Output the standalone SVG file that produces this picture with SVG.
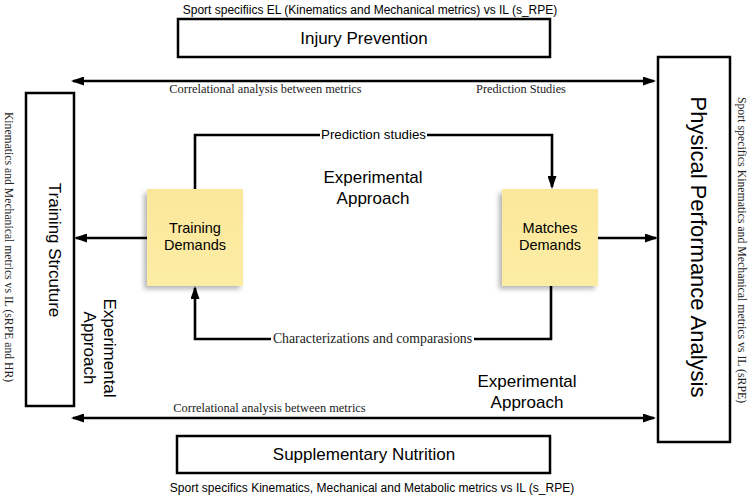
<svg xmlns="http://www.w3.org/2000/svg" width="750" height="497" viewBox="0 0 750 497">
<style>
.box{fill:#fff;stroke:#000;stroke-width:2.5}
.note{fill:url(#noteGrad)}
.sans{font-family:"Liberation Sans",Arial,sans-serif;fill:#000}
.serif{font-family:"Liberation Serif","Times New Roman",serif;fill:#222}
.conn{fill:none;stroke:#000;stroke-width:2.6}
.mid{text-anchor:middle}
</style>
<defs>
<linearGradient id="noteGrad" x1="0" y1="0" x2="0" y2="1">
<stop offset="0" stop-color="#FBE79C"/>
<stop offset="1" stop-color="#FCEDA4"/>
</linearGradient>
<filter id="shadow" x="-20%" y="-20%" width="140%" height="140%">
<feGaussianBlur stdDeviation="2.5"/>
</filter>
<marker id="arr" markerUnits="userSpaceOnUse" markerWidth="13" markerHeight="9" refX="11" refY="4.5" orient="auto-start-reverse" viewBox="0 0 13 9">
<path d="M0,0 L13,4.5 L0,9 z" fill="#000"/>
</marker>
</defs>

<g id="injury-prevention">
<text class="sans mid" x="370" y="14" font-size="12">Sport specifiics EL (Kinematics and Mechanical metrics) vs IL (s_RPE)</text>
<rect class="box" x="178" y="19" width="372" height="38"/>
<text class="sans mid" x="364" y="44" font-size="17">Injury Prevention</text>
</g>

<g id="supplementary-nutrition">
<rect class="box" x="177" y="436" width="373" height="37"/>
<text class="sans mid" x="364" y="460" font-size="17">Supplementary Nutrition</text>
<text class="sans mid" x="372" y="492" font-size="12">Sport specifics Kinematics, Mechanical and Metabolic metrics vs IL (s_RPE)</text>
</g>

<g id="training-structure">
<rect class="box" x="26" y="93" width="48" height="313"/>
<text class="sans mid" font-size="17" transform="translate(49,250) rotate(90)" x="0" y="0">Training Strcuture</text>
<text class="serif mid" font-size="11.7" transform="translate(4.5,247) rotate(90)" x="0" y="0">Kinematics and Mechanical metrics vs IL (sRPE and HR)</text>
</g>

<g id="physical-performance-analysis">
<rect class="box" x="658" y="57" width="72" height="385"/>
<text class="sans mid" font-size="22" transform="translate(691,247) rotate(90)" x="0" y="0">Physical Performance Analysis</text>
<text class="serif mid" font-size="11.8" transform="translate(738,250) rotate(90)" x="0" y="0">Sport specifics Kinematics and Mechanical metrics vs IL (sRPE)</text>
</g>

<g id="training-demands">
<rect x="144" y="193" width="96" height="96" fill="#777" opacity="0.55" filter="url(#shadow)"/>
<rect class="note" x="147" y="189" width="96" height="97"/>
<text class="sans mid" x="195" y="233" font-size="14.5">Training</text>
<text class="sans mid" x="195" y="250" font-size="14.5">Demands</text>
</g>

<g id="matches-demands">
<rect x="499" y="193" width="96" height="96" fill="#777" opacity="0.55" filter="url(#shadow)"/>
<rect class="note" x="502" y="189" width="96" height="97"/>
<text class="sans mid" x="550" y="233" font-size="14.5">Matches</text>
<text class="sans mid" x="550" y="250" font-size="14.5">Demands</text>
</g>

<g id="connectors">
<line class="conn" x1="73" y1="81" x2="654" y2="81" marker-start="url(#arr)" marker-end="url(#arr)"/>
<line class="conn" x1="73" y1="418" x2="654" y2="418" marker-start="url(#arr)" marker-end="url(#arr)"/>
<line class="conn" x1="147" y1="238" x2="76" y2="238" marker-end="url(#arr)"/>
<line class="conn" x1="598" y1="238" x2="656" y2="238" marker-end="url(#arr)"/>
<polyline class="conn" points="195,189 195,135 552,135 552,187" marker-end="url(#arr)"/>
<polyline class="conn" points="551,286 551,339 195,339 195,288" marker-end="url(#arr)"/>
<rect x="320" y="127" width="107" height="16" fill="#fff"/>
<text class="sans mid" x="373.5" y="139" font-size="13.3">Prediction studies</text>
<rect x="271" y="331" width="203" height="16" fill="#fff"/>
<text class="serif mid" x="372.5" y="343" font-size="13.8">Characterizations and comparasions</text>
<text class="serif mid" x="265.5" y="93" font-size="12.4">Correlational analysis between metrics</text>
<text class="serif mid" x="521" y="93" font-size="12.3">Prediction Studies</text>
<text class="serif mid" x="269.5" y="412" font-size="12.4">Correlational analysis between metrics</text>
</g>

<g id="labels">
<text class="sans mid" x="373" y="183" font-size="17">Experimental</text>
<text class="sans mid" x="373" y="204" font-size="17">Approach</text>
<text class="sans mid" x="527" y="387" font-size="17">Experimental</text>
<text class="sans mid" x="527" y="408" font-size="17">Approach</text>
<g transform="translate(103.5,348) rotate(90)">
<text class="sans mid" x="0" y="0" font-size="17">Experimental</text>
<text class="sans mid" x="0" y="20" font-size="17">Approach</text>
</g>
</g>
</svg>
